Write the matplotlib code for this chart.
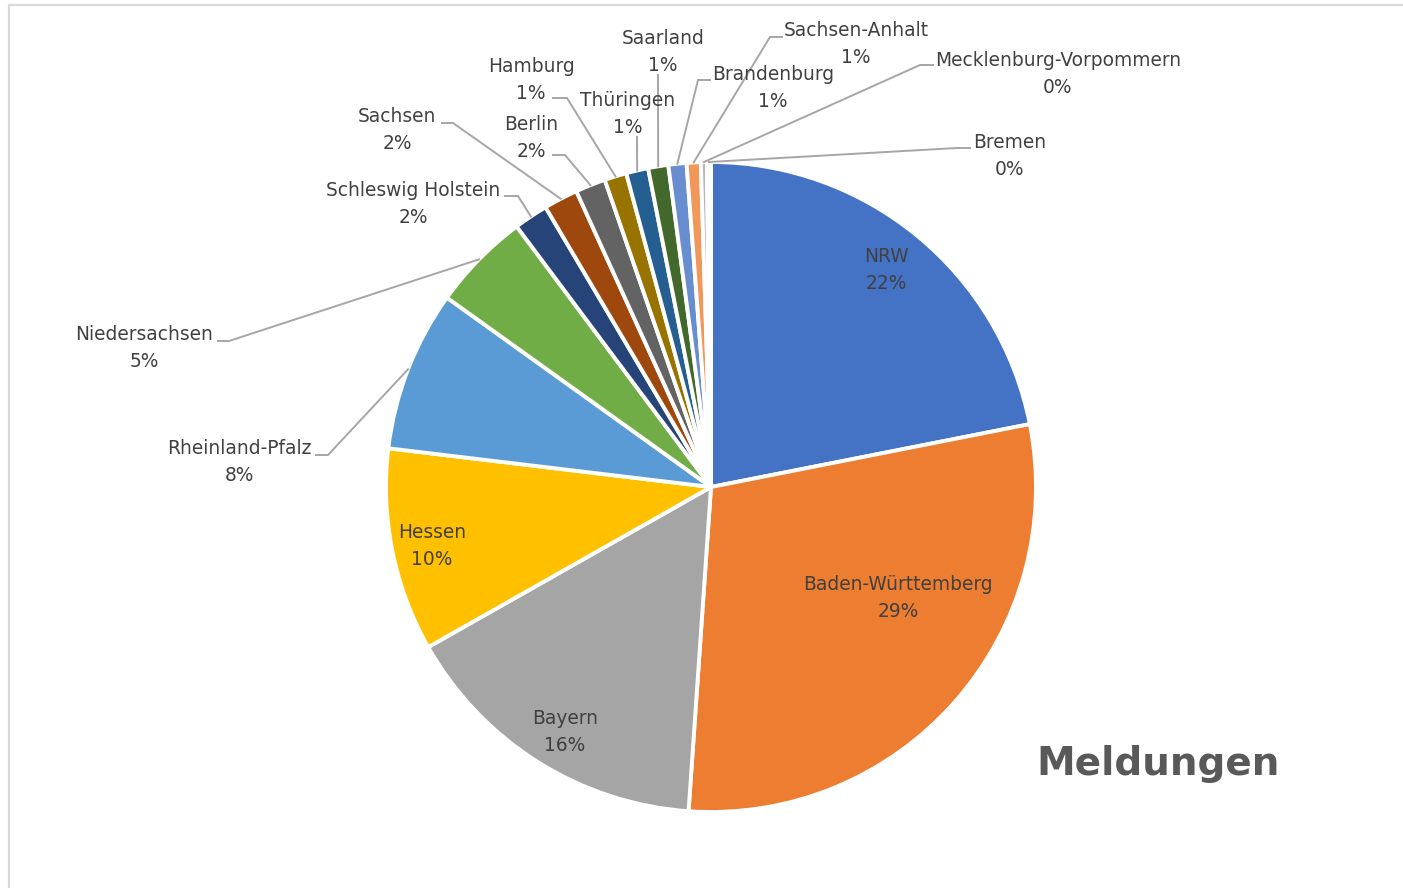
import matplotlib
matplotlib.use("Agg")
import matplotlib.pyplot as plt
import numpy as np

# ---- data ----
states = ["NRW", "Baden-Württemberg", "Bayern", "Hessen", "Rheinland-Pfalz",
          "Niedersachsen", "Schleswig Holstein", "Sachsen", "Berlin", "Hamburg",
          "Thüringen", "Saarland", "Brandenburg", "Sachsen-Anhalt",
          "Mecklenburg-Vorpommern", "Bremen"]
shares = [21.9, 29.2, 15.7, 10.1, 8.0, 4.9, 1.7, 1.7, 1.5, 1.1,
          1.1, 1.0, 0.9, 0.7, 0.3, 0.2]
pct_labels = ["22%", "29%", "16%", "10%", "8%", "5%", "2%", "2%", "2%", "1%",
              "1%", "1%", "1%", "1%", "0%", "0%"]
colors = ["#4472C4", "#ED7D31", "#A5A5A5", "#FFC000", "#5B9BD5", "#70AD47",
          "#264478", "#9E480E", "#636363", "#997300", "#255E91", "#43682B",
          "#698ED0", "#F1975A", "#B7B7B7", "#FFCD33"]
title = "Meldungen"

# ---- layout (pixel coords, y from top) ----
W, H = 1403, 888
CX, CY, R = 711, 487, 325
label_pos = [(886, 270), (898, 598), (565, 732), (432, 546), (239, 462),
             (144, 348), (413, 204), (397, 130), (531, 138), (531, 80),
             (628, 114), (663, 52), (773, 88), (856, 44), (1058, 74), (1010, 156)]
# leader start and elbow (None = inside label)
leaders = [None, None, None, None,
           ((316, 455), (328, 455)),
           ((218, 341), (229, 341)),
           ((505, 196), (518, 196)),
           ((442, 123), (453, 123)),
           ((553, 155), (565, 155)),
           ((553, 98), (567, 98)),
           ((637, 137), (637, 137)),
           ((658, 75), (658, 75)),
           ((710, 80), (698, 80)),
           ((782, 37), (770, 37)),
           ((933, 65), (920, 65)),
           ((970, 148), (957, 148))]

fig = plt.figure(figsize=(W / 100, H / 100), dpi=100)
ax = fig.add_axes([0, 0, 1, 1])

wedges, _ = ax.pie(shares, colors=colors, startangle=90, counterclock=False,
                   center=(CX, H - CY), radius=R,
                   wedgeprops=dict(edgecolor="white", linewidth=2.8))
ax.set_xlim(0, W)
ax.set_ylim(0, H)
ax.set_aspect("auto")
ax.axis("off")

# frame
ax.plot([8.5, 8.5, W + 5], [-5, H - 5.5, H - 5.5], color="#D9D9D9", lw=1.6,
        solid_capstyle="butt", clip_on=False)

txt_color = "#404040"
line_color = "#A6A6A6"
for i, w in enumerate(wedges):
    lx, ly = label_pos[i]
    ax.text(lx, H - ly, f"{states[i]}\n{pct_labels[i]}", ha="center", va="center",
            fontsize=13.4, color=txt_color, linespacing=1.54,
            family="DejaVu Sans")
    if leaders[i] is not None:
        th = np.deg2rad((w.theta1 + w.theta2) / 2)
        ex = CX + R * np.cos(th)
        ey = (H - CY) + R * np.sin(th)
        (sx, sy), (bx, by) = leaders[i]
        ax.plot([sx, bx, ex], [H - sy, H - by, ey], color=line_color, lw=1.4,
                solid_joinstyle="miter")

ax.text(1158, H - 775, title, ha="center", va="baseline", fontsize=28,
        fontweight="bold", color="#595959", family="DejaVu Sans")

fig.savefig("out.png", dpi=100)
